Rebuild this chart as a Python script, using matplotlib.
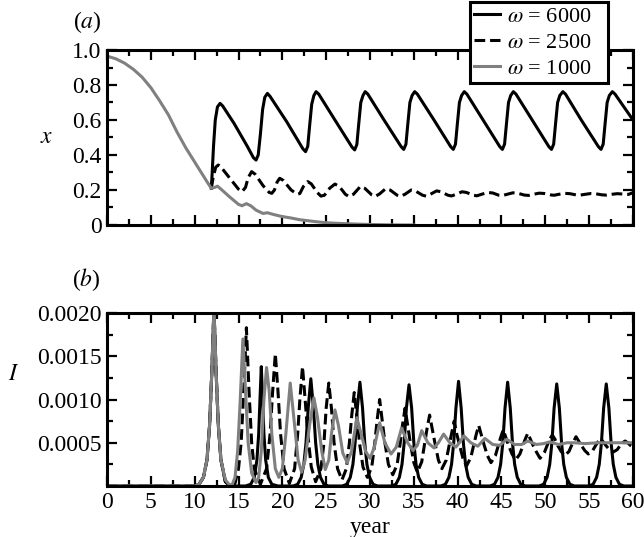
import matplotlib
matplotlib.use('Agg')
import matplotlib.pyplot as plt
from matplotlib.ticker import MultipleLocator, FixedLocator, FixedFormatter

plt.rcParams['font.family'] = ['Liberation Serif', 'DejaVu Serif']
plt.rcParams['mathtext.fontset'] = 'stix'
plt.rcParams['font.size'] = 17

labels = [r'$\omega$ = 6000' + '\u2002 ', r'$\omega$ = 2500' + '\u2002 ', r'$\omega$ = 1000' + '\u2002 ']

# ---------------- panel (a): x ----------------
x_years_1000 = [0, 1, 2, 3, 4, 5, 6, 7, 8, 9, 10, 11, 11.5, 11.9,
                12.3, 12.6, 13.0, 14.0, 15.0, 15.4, 15.9, 16.4, 17.0, 17.8, 18.3,
                19.0, 20.0, 21.0, 22.0, 23.0, 24.0, 25.0, 26.5, 28.0, 30.0, 32.0, 35.0]
x_vals_1000 = [0.965, 0.95, 0.925, 0.89, 0.845, 0.785, 0.71, 0.63, 0.53, 0.44, 0.36, 0.28, 0.24, 0.21,
               0.215, 0.222, 0.205, 0.16, 0.118, 0.11, 0.122, 0.11, 0.085, 0.066, 0.07,
               0.06, 0.048, 0.04, 0.03, 0.024, 0.018, 0.013, 0.009, 0.006, 0.003, 0.001, 0.0]

x_years_6000 = [11.9, 12.0, 12.15, 12.35, 12.6, 12.9, 13.2, 14.5, 16.0, 16.7, 17.0,
                17.25, 17.5, 17.75, 18.0, 18.3, 18.6, 20.5, 22.35, 22.65,
                22.9, 23.1, 23.35, 23.6, 23.85, 24.15, 26.0, 27.95, 28.25,
                28.5, 28.7, 28.95, 29.2, 29.45, 29.75, 31.6, 33.55, 33.85,
                34.1, 34.3, 34.55, 34.8, 35.1, 35.4, 37.3, 39.2, 39.5,
                39.75, 39.95, 40.2, 40.45, 40.75, 41.05, 42.9, 44.8, 45.1,
                45.35, 45.55, 45.8, 46.05, 46.35, 46.65, 48.5, 50.4, 50.7,
                50.95, 51.15, 51.4, 51.65, 52.0, 52.3, 54.1, 56.05, 56.35,
                56.6, 56.8, 57.05, 57.3, 57.65, 57.95, 60.0]
x_vals_6000 = [0.21, 0.30, 0.45, 0.60, 0.675, 0.695, 0.68, 0.58, 0.45, 0.385, 0.371,
               0.40, 0.52, 0.66, 0.73, 0.752, 0.735, 0.59, 0.435, 0.419,
               0.45, 0.56, 0.69, 0.74, 0.762, 0.748, 0.60, 0.445, 0.429,
               0.46, 0.57, 0.70, 0.74, 0.762, 0.748, 0.60, 0.448, 0.432,
               0.462, 0.57, 0.70, 0.74, 0.762, 0.748, 0.60, 0.448, 0.432,
               0.462, 0.57, 0.70, 0.74, 0.762, 0.748, 0.60, 0.448, 0.432,
               0.462, 0.57, 0.70, 0.74, 0.762, 0.748, 0.60, 0.448, 0.432,
               0.462, 0.57, 0.70, 0.74, 0.762, 0.748, 0.60, 0.448, 0.432,
               0.462, 0.57, 0.70, 0.74, 0.762, 0.748, 0.60]

x_years_2500 = [11.9, 12.1, 12.4, 12.7, 13.1, 14.2, 15.0, 15.4, 15.8, 16.1, 16.5, 16.9,
                17.8, 18.5, 18.8, 19.1, 19.4, 19.7, 20.1, 21.0, 21.7, 22.0, 22.4, 22.9,
                23.3, 24.0, 24.4, 24.8, 25.4, 26.0, 26.5, 27.2, 27.6, 28.1, 28.9, 29.4,
                30.2, 30.6, 31.1, 31.8, 32.3, 33.1, 33.5, 34.0, 34.7, 35.2, 36.0, 36.4,
                36.9, 37.6, 38.1, 38.9, 39.3, 39.8, 40.5, 41.0, 41.8, 42.2, 42.7, 43.4,
                44.0, 44.7, 45.1, 45.6, 46.3, 46.9, 47.6, 48.1, 48.6, 49.3, 49.9, 50.6,
                51.0, 51.5, 52.2, 52.8, 53.5, 54.0, 54.5, 55.2, 55.8, 56.5, 57.0, 57.5,
                58.2, 58.8, 59.5, 60.0]
x_vals_2500 = [0.21, 0.27, 0.33, 0.343, 0.325, 0.255, 0.205, 0.19, 0.215, 0.27, 0.305, 0.29,
               0.225, 0.186, 0.181, 0.20, 0.245, 0.267, 0.255, 0.20, 0.176, 0.18, 0.22, 0.248,
               0.235, 0.185, 0.165, 0.17, 0.21, 0.234, 0.22, 0.175, 0.163, 0.175, 0.22, 0.21,
               0.172, 0.163, 0.178, 0.208, 0.20, 0.17, 0.164, 0.176, 0.20, 0.194, 0.17, 0.165,
               0.176, 0.195, 0.19, 0.17, 0.166, 0.175, 0.19, 0.186, 0.17, 0.167, 0.175, 0.186,
               0.183, 0.17, 0.168, 0.175, 0.184, 0.181, 0.171, 0.169, 0.175, 0.182, 0.18, 0.172,
               0.17, 0.175, 0.181, 0.179, 0.172, 0.171, 0.175, 0.18, 0.178, 0.172, 0.171, 0.175,
               0.179, 0.177, 0.175, 0.185]

# ---------------- panel (b): I ----------------
I_years_6000 = [0, 10.0, 10.5, 11.0, 11.4, 11.7, 11.95, 12.2, 12.45, 12.7, 13.0, 13.5, 14.0,
                15.8, 16.4, 16.8, 17.1, 17.3, 17.45, 17.6, 17.75, 17.9, 18.1, 18.4, 18.8, 19.5,
                21.25, 21.75, 22.15, 22.45, 22.7, 22.95, 23.25, 23.55, 23.8, 24.05, 24.35, 24.75, 25.25,
                26.85, 27.35, 27.75, 28.05, 28.3, 28.55, 28.85, 29.15, 29.4, 29.65, 29.95, 30.35, 30.85,
                32.45, 32.95, 33.35, 33.65, 33.9, 34.15, 34.45, 34.75, 35.0, 35.25, 35.55, 35.95, 36.45,
                38.1, 38.6, 39.0, 39.3, 39.55, 39.8, 40.1, 40.4, 40.65, 40.9, 41.2, 41.6, 42.1,
                43.7, 44.2, 44.6, 44.9, 45.15, 45.4, 45.7, 46.0, 46.25, 46.5, 46.8, 47.2, 47.7,
                49.3, 49.8, 50.2, 50.5, 50.75, 51.0, 51.3, 51.6, 51.85, 52.1, 52.4, 52.8, 53.3,
                54.95, 55.45, 55.85, 56.15, 56.4, 56.65, 56.95, 57.25, 57.5, 57.75, 58.05, 58.45, 58.95,
                60.0]
I_vals_6000 = [0, 0, 0.00002, 0.0001, 0.0003, 0.0007, 0.0013, 0.00205, 0.0013, 0.0007, 0.0003, 0.00005, 0.0,
               0.0, 0.00002, 0.0001, 0.0003, 0.0006, 0.001, 0.00138, 0.001, 0.0006, 0.0003, 0.0001, 0.00002, 0.0,
               0.0, 0.00002, 0.0001, 0.00025, 0.0005, 0.0009, 0.00124, 0.0009, 0.0005, 0.00025, 0.0001, 0.00002, 0.0,
               0.0, 0.00002, 0.0001, 0.00025, 0.0005, 0.0009, 0.0012, 0.0009, 0.0005, 0.00025, 0.0001, 0.00002, 0.0,
               0.0, 0.00002, 0.0001, 0.00025, 0.0005, 0.0009, 0.00117, 0.0009, 0.0005, 0.00025, 0.0001, 0.00002, 0.0,
               0.0, 0.00002, 0.0001, 0.00025, 0.0005, 0.0009, 0.00121, 0.0009, 0.0005, 0.00025, 0.0001, 0.00002, 0.0,
               0.0, 0.00002, 0.0001, 0.00025, 0.0005, 0.0009, 0.0012, 0.0009, 0.0005, 0.00025, 0.0001, 0.00002, 0.0,
               0.0, 0.00002, 0.0001, 0.00025, 0.0005, 0.0009, 0.00118, 0.0009, 0.0005, 0.00025, 0.0001, 0.00002, 0.0,
               0.0, 0.00002, 0.0001, 0.00025, 0.0005, 0.0009, 0.00118, 0.0009, 0.0005, 0.00025, 0.0001, 0.00002, 0.0,
               0.0]

I_years_2500 = [0, 10.0, 10.5, 11.0, 11.4, 11.7, 11.95, 12.2, 12.45, 12.7, 13.0, 13.5, 14.0,
                14.6, 15.0, 15.3, 15.6, 15.9, 16.2, 16.5, 16.8, 17.5, 18.2, 18.6, 18.9, 19.2, 19.5,
                19.8, 20.2, 20.8, 21.4, 21.75, 22.0, 22.3, 22.6, 22.9, 23.3, 23.8, 24.4, 24.75,
                25.0, 25.3, 25.6, 25.9, 26.3, 26.8, 27.3, 27.65, 27.9, 28.2, 28.5, 28.8, 29.2,
                29.7, 30.2, 30.55, 30.8, 31.1, 31.4, 31.7, 32.1, 32.6, 33.1, 33.45, 33.7, 34.0,
                34.3, 34.6, 35.0, 35.4, 35.9, 36.25, 36.5, 36.8, 37.1, 37.4, 37.8, 38.2, 38.7,
                39.05, 39.3, 39.6, 39.9, 40.2, 40.6, 41.0, 41.5, 41.85, 42.1, 42.4, 42.7, 43.0,
                43.4, 43.8, 44.3, 44.65, 44.9, 45.2, 45.5, 45.8, 46.2, 46.6, 47.1, 47.45, 47.7,
                48.0, 48.3, 48.6, 49.0, 49.4, 49.9, 50.25, 50.5, 50.8, 51.1, 51.4, 51.8, 52.2,
                52.7, 53.0, 53.25, 53.5, 53.8, 54.1, 54.5, 54.9, 55.4, 55.75, 56.0, 56.3, 56.6,
                56.9, 57.3, 57.7, 58.2, 58.55, 58.8, 59.1, 59.4, 59.7, 60.0]
I_vals_2500 = [0, 0, 0.00002, 0.0001, 0.0003, 0.0007, 0.0013, 0.00205, 0.0013, 0.0007, 0.0003, 0.00005, 0.00001,
               0.00003, 0.0002, 0.0005, 0.0011, 0.00183, 0.0011, 0.0005, 0.0002, 0.00002, 0.0002, 0.0006, 0.0011, 0.00153, 0.0011,
               0.0006, 0.0002, 0.00003, 0.0002, 0.0006, 0.001, 0.00138, 0.001, 0.0006, 0.00022, 0.00005, 0.0002, 0.0005,
               0.0009, 0.00119, 0.0009, 0.0005, 0.0002, 0.00007, 0.0002, 0.0005, 0.0008, 0.00108, 0.0008, 0.0005, 0.00022,
               0.0001, 0.00022, 0.0005, 0.00075, 0.001, 0.00075, 0.0005, 0.00025, 0.00013, 0.00025, 0.0005, 0.0007, 0.0009,
               0.0007, 0.0005, 0.00027, 0.00016, 0.00028, 0.0005, 0.00066, 0.00082, 0.00066, 0.0005, 0.0003, 0.0002, 0.0003,
               0.00048, 0.0006, 0.00075, 0.0006, 0.00048, 0.00032, 0.00023, 0.00033, 0.00048, 0.00059, 0.0007, 0.00059, 0.00048,
               0.00035, 0.00027, 0.00035, 0.00047, 0.00056, 0.00065, 0.00056, 0.00047, 0.00037, 0.0003, 0.00037, 0.00047, 0.00054,
               0.00061, 0.00054, 0.00047, 0.00039, 0.00032, 0.00039, 0.00048, 0.00054, 0.00059, 0.00054, 0.00047, 0.0004, 0.00035,
               0.0004, 0.00047, 0.00052, 0.00057, 0.00052, 0.00047, 0.00041, 0.00037, 0.00041, 0.00047, 0.00051, 0.00055, 0.00051,
               0.00047, 0.00042, 0.00039, 0.00042, 0.00047, 0.0005, 0.00052, 0.0005, 0.00047, 0.00045]

I_years_1000 = [0, 10.0, 10.5, 11.0, 11.4, 11.7, 11.95, 12.2, 12.45, 12.7, 13.0, 13.5, 14.0,
                14.3, 14.6, 14.9, 15.2, 15.5, 15.8, 16.1, 16.5, 17.0, 17.3, 17.6, 17.9, 18.2,
                18.5, 18.8, 19.2, 19.6, 20.0, 20.4, 20.9, 21.3, 21.8, 22.2, 22.6, 23.1, 23.6,
                24.0, 24.5, 24.9, 25.3, 25.6, 26.0, 26.4, 26.9, 27.4, 27.9, 28.5, 29.0, 29.5,
                30.0, 30.5, 31.1, 31.7, 32.4, 33.0, 33.6, 34.3, 34.9, 35.4, 35.9, 36.6, 37.3,
                37.8, 38.4, 39.1, 39.8, 40.2, 40.7, 41.5, 42.3, 43.1, 44.0, 44.8, 45.6, 46.5,
                47.3, 48.0, 49.0, 49.8, 50.5, 51.5, 52.5, 53.3, 54.5, 56.0, 58.0, 60.0]
I_vals_1000 = [0, 0, 0.00002, 0.0001, 0.0003, 0.0007, 0.0013, 0.00205, 0.0013, 0.0007, 0.0003, 0.00007, 0.00001,
               0.00002, 0.0001, 0.0004, 0.001, 0.0017, 0.0011, 0.0005, 0.00015, 0.00004, 0.0001, 0.0004, 0.001, 0.00137,
               0.0011, 0.0006, 0.0002, 0.0001, 0.0002, 0.0006, 0.00119, 0.0008, 0.0003, 0.00016, 0.0003, 0.0007, 0.00102,
               0.0008, 0.0004, 0.00019, 0.0003, 0.0006, 0.00088, 0.0007, 0.00038, 0.00027, 0.0004, 0.00079, 0.0006, 0.0004,
               0.00032, 0.00045, 0.00073, 0.0005, 0.00037, 0.00045, 0.00067, 0.0005, 0.00041, 0.00047, 0.00064, 0.0005, 0.00044,
               0.0005, 0.0006, 0.0005, 0.00045, 0.0005, 0.00058, 0.0005, 0.00046, 0.00055, 0.00048, 0.00047, 0.00054, 0.00048,
               0.00048, 0.00052, 0.00048, 0.00049, 0.00051, 0.00048, 0.0005, 0.0005, 0.00049, 0.0005, 0.0005, 0.0005]

# ---------------- styles ----------------
GRAY = '#808080'
LW = 2.2
DASH = (0, (3.5, 1.6))

fig = plt.figure(figsize=(6.44, 5.37), dpi=100)
ax1 = fig.add_axes([107/644, 1-225/537, 526/644, 175/537])
ax2 = fig.add_axes([107/644, 1-486/537, 526/644, 173/537])

l1, = ax1.plot(x_years_6000, x_vals_6000, color='black', lw=LW, label=labels[0])
l2, = ax1.plot(x_years_2500, x_vals_2500, color='black', lw=LW, ls=DASH, label=labels[1])
l3, = ax1.plot(x_years_1000, x_vals_1000, color=GRAY, lw=LW, label=labels[2])

ax2.plot(I_years_6000, I_vals_6000, color='black', lw=LW)
ax2.plot(I_years_2500, I_vals_2500, color='black', lw=LW, ls=DASH)
ax2.plot(I_years_1000, I_vals_1000, color=GRAY, lw=LW)

for ax in (ax1, ax2):
    ax.set_xlim(0, 60)
    ax.xaxis.set_major_locator(MultipleLocator(5))
    ax.xaxis.set_minor_locator(MultipleLocator(2.5))
    ax.tick_params(which='both', direction='in', top=True, right=True, width=1.6, pad=4)
    ax.tick_params(which='major', length=7.5)
    ax.tick_params(which='minor', length=4)
    for s in ax.spines.values():
        s.set_linewidth(2.2)

ax1.set_ylim(0, 1)
ax1.yaxis.set_major_locator(FixedLocator([0, 0.2, 0.4, 0.6, 0.8, 1.0]))
ax1.yaxis.set_major_formatter(FixedFormatter(['0', '0.2', '0.4', '0.6', '0.8', '1.0']))
ax1.yaxis.set_minor_locator(MultipleLocator(0.1))
ax1.tick_params(labelbottom=False)

ax2.set_ylim(0, 0.002)
ax2.yaxis.set_major_locator(FixedLocator([0.0005, 0.0010, 0.0015, 0.0020]))
ax2.yaxis.set_major_formatter(FixedFormatter(['0.0005', '0.0010', '0.0015', '0.0020']))
ax2.yaxis.set_minor_locator(FixedLocator([0.00025, 0.00075, 0.00125, 0.00175]))

ax1.set_ylabel('$x$', rotation=0, ha='center', va='center')
ax1.yaxis.set_label_coords((47-107)/526, 0.5)
ax2.set_ylabel('$I$', rotation=0, ha='center', va='center')
ax2.yaxis.set_label_coords((14-107)/526, (486-374)/173)
ax2.set_xlabel('year', va='center')
ax2.xaxis.set_label_coords(0.5, -(527-486)/173)

fig.text(87/644, 1-22/537, '($a$)', ha='center', va='center')
fig.text(86/644, 1-280/537, '($b$)', ha='center', va='center')

leg = ax1.legend(handles=[l1, l2, l3], loc='upper left', bbox_to_anchor=(470/644, 1-2/537),
                 bbox_transform=fig.transFigure, frameon=True, fancybox=False,
                 edgecolor='black', framealpha=1, handlelength=1.15, handletextpad=0.3,
                 borderpad=0.2, labelspacing=0.24, borderaxespad=0, fontsize=16)
leg.get_frame().set_linewidth(2.2)

fig.savefig('out.png', dpi=100)
